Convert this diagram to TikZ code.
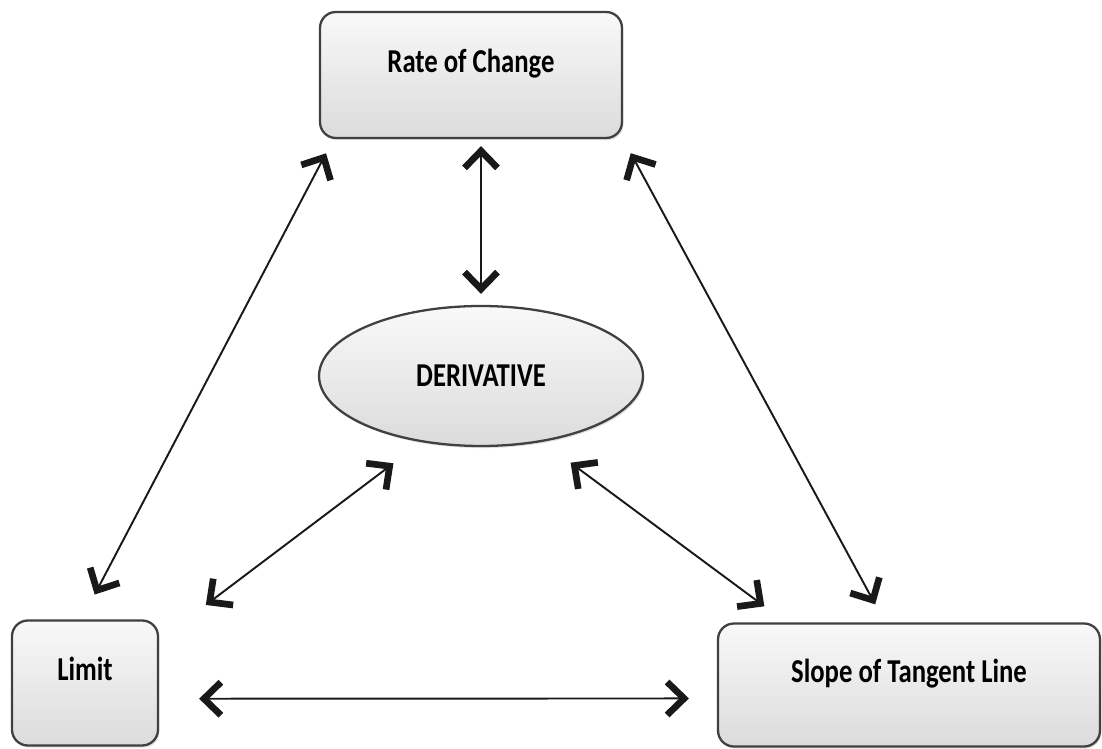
\documentclass[tikz,border=0pt]{standalone}
\usepackage{fontspec}
\setmainfont{Carlito}[FakeStretch=0.8]
\usetikzlibrary{arrows.meta, shapes.geometric, shadows}
\usepackage{xcolor}

\begin{document}
\begin{tikzpicture}[x=0.02cm, y=-0.02cm]
                \tikzset{Box/.style={rectangle, rounded corners=9pt, draw=black!75, line width=1.3pt,
                        top color=gray!5, bottom color=gray!28, text depth=15pt, text height=12pt,
                        font=\fontsize{19}{22}\selectfont\bfseries,
                        drop shadow={shadow xshift=0.8pt, shadow yshift=-1.2pt, opacity=0.25}}}
                \tikzset{Oval/.style={ellipse, inner sep=0pt, draw=black!75, line width=1.3pt,
                        top color=gray!5, bottom color=gray!28,
                        font=\fontsize{19}{22}\selectfont\bfseries,
                        drop shadow={shadow xshift=0.8pt, shadow yshift=-1.2pt, opacity=0.25}}}
                \tikzset{Barb/.tip={Straight Barb[length=0.34cm, width=0.66cm, line width=3.8pt]}}
                \tikzset{Link/.style={draw, black!90, line width=1.1pt, Barb-Barb}}
                \useasboundingbox (0,0) rectangle (1102,749);

                \node[Box, minimum width=6.04cm, minimum height=2.52cm](NRate) at (471,75) {Rate of Change};
                \node[Oval, minimum width=6.48cm, minimum height=2.8cm](NDeriv) at (481,376) {DERIVATIVE};
                \node[Box, minimum width=2.92cm, minimum height=2.5cm](NLimit) at (85,683) {Limit};
                \node[Box, minimum width=7.64cm, minimum height=2.46cm](NSlope) at (909,685) {Slope of Tangent Line};

                \path
                    (NLimit.93) edge[Link, shorten <=0.56cm, shorten >=0.32cm] (NRate.205)
                    (NRate.south east) edge[Link, shorten <=0.32cm, shorten >=0.41cm] (NSlope.111)
                    (NDeriv.north |- NRate.south) edge[Link, shorten <=0.14cm, shorten >=0.22cm] (NDeriv.north)
                    (NLimit.30) edge[Link, shorten <=1.17cm, shorten >=0.7cm] (NDeriv.228)
                    (NDeriv.-47) edge[Link, shorten <=0.7cm, shorten >=0.54cm] (NSlope.153)
                    (NLimit.-12) edge[Link, shorten <=0.8cm, shorten >=0.56cm] (NSlope.184)
                ;
            \end{tikzpicture}
\end{document}
